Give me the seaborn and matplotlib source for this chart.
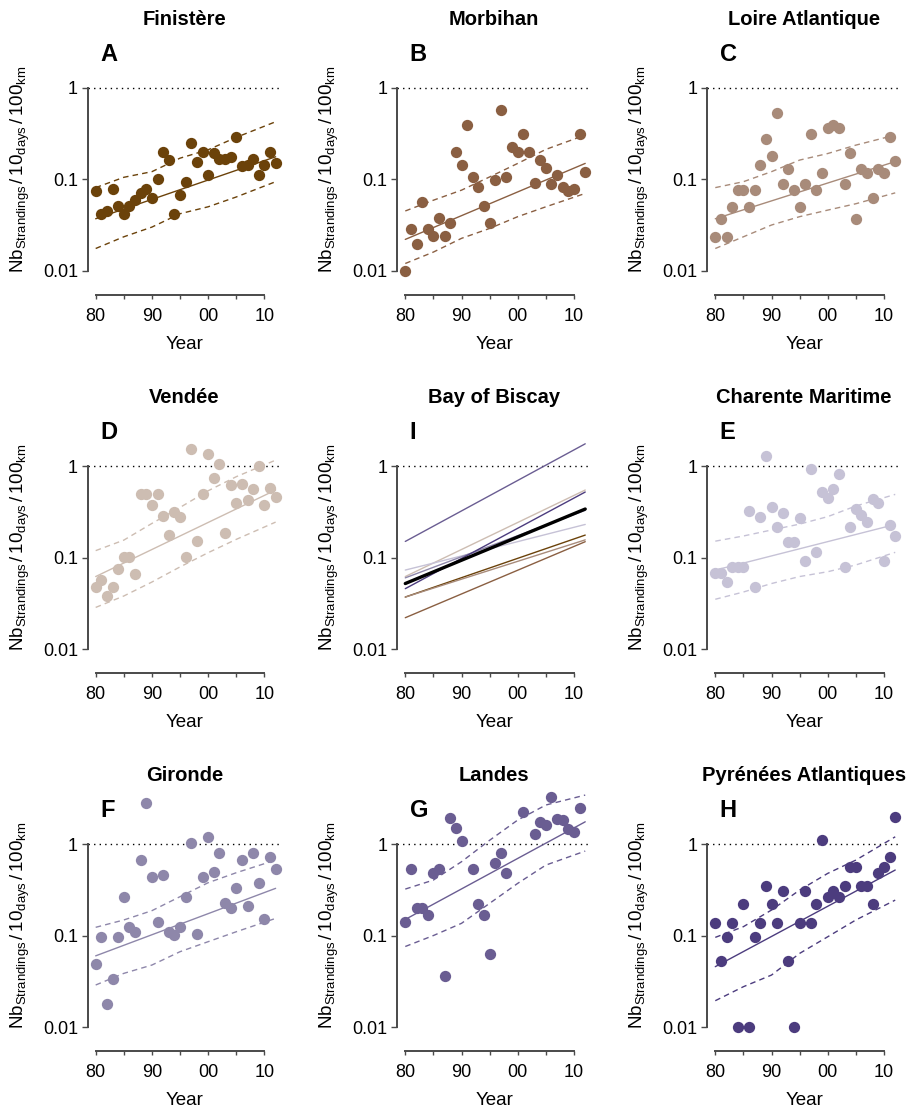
import numpy as np
import pandas as pd
import matplotlib
matplotlib.use("Agg")
import matplotlib.pyplot as plt
from matplotlib.ticker import FixedLocator, NullLocator, FixedFormatter
import seaborn as sns

# ---------------- data ----------------
years = list(range(1980, 2013))

finistere = [0.075, 0.042, 0.045, 0.078, 0.051, 0.042, 0.051, 0.059, 0.070, 0.078,
             0.062, 0.100, 0.198, 0.162, 0.042, 0.067, 0.093, 0.246, 0.155, 0.200,
             0.111, 0.195, 0.168, 0.165, 0.176, 0.291, 0.139, 0.143, 0.165, 0.111,
             0.143, 0.198, 0.149]
morbihan = [0.010, 0.0283, 0.0194, 0.0558, 0.0283, 0.0239, 0.038, 0.0239, 0.0329, 0.198,
            0.142, 0.394, 0.106, 0.083, 0.051, 0.0329, 0.097, 0.565, 0.106, 0.225,
            0.198, 0.312, 0.198, 0.092, 0.161, 0.134, 0.088, 0.111, 0.083, 0.074,
            0.079, 0.312, 0.121]
loire = [0.0235, 0.0367, 0.0235, 0.050, 0.076, 0.076, 0.050, 0.076, 0.142, 0.272,
         0.181, 0.533, 0.089, 0.128, 0.076, 0.050, 0.089, 0.312, 0.076, 0.116,
         0.360, 0.391, 0.360, 0.089, 0.195, 0.0367, 0.128, 0.116, 0.063, 0.128,
         0.116, 0.286, 0.157]
vendee = [0.048, 0.057, 0.038, 0.048, 0.075, 0.102, 0.102, 0.066, 0.49, 0.49,
          0.372, 0.49, 0.286, 0.176, 0.312, 0.275, 0.102, 1.53, 0.151, 0.49,
          1.34, 0.745, 1.04, 0.187, 0.62, 0.391, 0.63, 0.425, 0.56, 1.0,
          0.372, 0.58, 0.462]
charente = [0.067, 0.067, 0.054, 0.079, 0.079, 0.079, 0.325, 0.048, 0.275, 1.30,
            0.36, 0.217, 0.304, 0.148, 0.148, 0.268, 0.092, 0.92, 0.116, 0.525,
            0.451, 0.556, 0.824, 0.079, 0.217, 0.339, 0.291, 0.242, 0.432, 0.398,
            0.092, 0.227, 0.172]
gironde = [0.049, 0.0955, 0.0178, 0.0335, 0.0955, 0.266, 0.125, 0.110, 0.668, 2.78,
           0.44, 0.142, 0.458, 0.110, 0.101, 0.125, 0.266, 1.02, 0.103, 0.44,
           1.18, 0.49, 0.80, 0.225, 0.201, 0.333, 0.668, 0.21, 0.80, 0.378,
           0.150, 0.727, 0.533]
landes = [0.142, 0.533, 0.198, 0.198, 0.168, 0.478, 0.533, 0.0364, 1.94, 1.48,
          1.09, np.nan, 0.533, 0.221, 0.168, 0.0629, 0.615, 0.791, 0.486, np.nan,
          np.nan, 2.22, np.nan, 1.29, 1.72, 1.61, 3.29, 1.88, 1.83, 1.45,
          1.34, 2.45, np.nan]
pyrenees = [0.138, 0.0527, 0.097, 0.138, 0.010, 0.221, 0.010, 0.097, 0.138, 0.348,
            0.221, 0.138, 0.309, 0.0527, 0.010, 0.138, 0.309, 0.138, 0.221, 1.11,
            0.266, 0.309, 0.266, 0.348, 0.556, 0.556, 0.348, 0.348, 0.221, 0.478,
            0.556, 0.727, 1.99]

# fitted trend lines
fit_years = [1980, 2012]
fit_years_e = [1980, 1985, 2012]
fit_A = [0.037, 0.176]
fit_B = [0.022, 0.149]
fit_C = [0.037, 0.156]
fit_D = [0.062, 0.547]
fit_E = [0.073, 0.087, 0.23]
fit_F = [0.060, 0.328]
fit_G = [0.150, 1.75]
fit_H = [0.0457, 0.52]
fit_mean = [0.052, 0.339]

# confidence bands
ci_years = [1980, 1985, 1990, 1995, 2000, 2005, 2012]
up_A = [0.081, 0.105, 0.121, 0.17, 0.21, 0.287, 0.425]
lo_A = [0.0175, 0.0235, 0.030, 0.042, 0.05, 0.064, 0.094]
up_B = [0.045, 0.059, 0.076, 0.106, 0.149, 0.212, 0.304]
lo_B = [0.012, 0.016, 0.0226, 0.029, 0.039, 0.05, 0.07]
up_C = [0.081, 0.094, 0.121, 0.162, 0.191, 0.236, 0.304]
lo_C = [0.0175, 0.0235, 0.0316, 0.039, 0.046, 0.054, 0.071]
up_D = [0.119, 0.155, 0.236, 0.353, 0.537, 0.765, 1.16]
lo_D = [0.0285, 0.038, 0.054, 0.079, 0.113, 0.158, 0.244]
up_E = [0.151, 0.172, 0.2, 0.232, 0.28, 0.366, 0.49]
lo_E = [0.035, 0.042, 0.052, 0.062, 0.07, 0.083, 0.114]
up_F = [0.123, 0.148, 0.187, 0.266, 0.378, 0.486, 0.668]
lo_F = [0.0288, 0.0386, 0.0476, 0.0666, 0.0857, 0.11, 0.154]
up_G = [0.322, 0.404, 0.641, 1.1, 1.83, 2.67, 3.43]
lo_G = [0.0759, 0.1, 0.136, 0.225, 0.372, 0.589, 0.838]
up_H = [0.0955, 0.125, 0.19, 0.314, 0.478, 0.668, 1.2]
lo_H = [0.0194, 0.0276, 0.037, 0.0638, 0.097, 0.148, 0.244]

titles = ["Finistère", "Morbihan", "Loire Atlantique",
          "Vendée", "Bay of Biscay", "Charente Maritime",
          "Gironde", "Landes", "Pyrénées Atlantiques"]
letters = ["A", "B", "C", "D", "I", "E", "F", "G", "H"]
x_ticks = [1980, 1985, 1990, 1995, 2000, 2005, 2010]
x_ticklabels = ["80", "", "90", "", "00", "", "10"]
y_ticks = [0.01, 0.1, 1]
y_ticklabels = ["0.01", "0.1", "1"]

colors = {"A": "#6b420a", "B": "#8a5f42", "C": "#a88b7a", "D": "#cdbdb2",
          "E": "#c6c2d6", "F": "#8e87aa", "G": "#6a5d92", "H": "#4c3c7e"}

regions = {
    "A": (finistere, fit_years, fit_A, up_A, lo_A),
    "B": (morbihan, fit_years, fit_B, up_B, lo_B),
    "C": (loire, fit_years, fit_C, up_C, lo_C),
    "D": (vendee, fit_years, fit_D, up_D, lo_D),
    "E": (charente, fit_years_e, fit_E, up_E, lo_E),
    "F": (gironde, fit_years, fit_F, up_F, lo_F),
    "G": (landes, fit_years, fit_G, up_G, lo_G),
    "H": (pyrenees, fit_years, fit_H, up_H, lo_H),
}

# ---------------- style ----------------
sns.set_theme(style="ticks")
plt.rcParams["font.family"] = ["Liberation Sans", "DejaVu Sans"]
plt.rcParams["text.color"] = "black"
plt.rcParams["axes.labelcolor"] = "black"
plt.rcParams["mathtext.fontset"] = "custom"
plt.rcParams["mathtext.rm"] = "Liberation Sans"
plt.rcParams["mathtext.it"] = "Liberation Sans:italic"
plt.rcParams["mathtext.bf"] = "Liberation Sans:bold"

W, H = 921, 1110
fig = plt.figure(figsize=(W / 100, H / 100), dpi=100)

px_per_year = 5.623
x_left = 1978.58
x_right = 2013.0
y_bot = 0.00542
y_top = 3.55
dec_px = 91.5
ax_w = (x_right - x_left) * px_per_year
ax_h = (np.log10(y_top) - np.log10(y_bot)) * dec_px

col_left = [87.7, 397.3, 707.3]
row_top = [37.4, 415.7, 793.7]

spine_col = "#4a4a4a"
ylabel = r"$\mathrm{Nb}_{\mathrm{Strandings}}\,/\,\mathrm{10}_{\mathrm{days}}\,/\,\mathrm{100}_{\mathrm{km}}$"

for i, (title, letter) in enumerate(zip(titles, letters)):
    r, c = divmod(i, 3)
    ax = fig.add_axes([col_left[c] / W, 1 - (row_top[r] + ax_h) / H, ax_w / W, ax_h / H])
    ax.set_yscale("log")
    ax.set_xlim(x_left, x_right)
    ax.set_ylim(y_bot, y_top)

    ax.axhline(1, ls=(0, (1, 3)), color="black", lw=1.0, zorder=1)

    if letter == "I":
        for key in ["D", "E", "F", "G", "H", "A", "B", "C"]:
            _, fy, fv, _, _ = regions[key]
            sns.lineplot(x=fy, y=fv, ax=ax, color=colors[key], lw=1.0, zorder=2)
        sns.lineplot(x=fit_years, y=fit_mean, ax=ax, color="black", lw=2.4, zorder=3)
    else:
        vals, fy, fv, up, lo = regions[letter]
        col = colors[letter]
        df = pd.DataFrame({"year": years, "value": vals}).dropna()
        sns.scatterplot(data=df, x="year", y="value", ax=ax, color=col, s=66,
                        linewidth=0, zorder=4, clip_on=False)
        sns.lineplot(x=fy, y=fv, ax=ax, color=col, lw=1.0, zorder=3)
        sns.lineplot(x=ci_years, y=up, ax=ax, color=col, lw=1.0, zorder=3,
                     linestyle=(0, (4, 3)))
        sns.lineplot(x=ci_years, y=lo, ax=ax, color=col, lw=1.0, zorder=3,
                     linestyle=(0, (4, 3)))

    # axes cosmetics
    ax.xaxis.set_major_locator(FixedLocator(x_ticks))
    ax.xaxis.set_major_formatter(FixedFormatter(x_ticklabels))
    ax.xaxis.set_minor_locator(NullLocator())
    ax.yaxis.set_major_locator(FixedLocator(y_ticks))
    ax.yaxis.set_major_formatter(FixedFormatter(y_ticklabels))
    ax.yaxis.set_minor_locator(NullLocator())
    ax.tick_params(axis="x", length=3, width=1.0, color=spine_col, labelsize=13,
                   pad=6, labelcolor="black")
    ax.tick_params(axis="y", length=4, width=1.0, color=spine_col, labelsize=13,
                   pad=3, labelcolor="black")
    for s in ["top", "right"]:
        ax.spines[s].set_visible(False)
    ax.spines["left"].set_bounds(0.01, 1)
    ax.spines["bottom"].set_bounds(1980, 2010)
    for s in ["left", "bottom"]:
        ax.spines[s].set_color(spine_col)
        ax.spines[s].set_linewidth(1.4)

    ax.set_xlabel("Year", fontsize=13.5, color="black")
    ax.xaxis.set_label_coords(0.5, -0.158)
    ax.set_ylabel(ylabel, fontsize=13.5, color="black")
    ax.yaxis.set_label_coords(-0.29, 0.49)

    ax.text(0.5, 1.069, title, transform=ax.transAxes, ha="center", va="center",
            fontsize=14.5, fontweight="bold", color="black")
    ax.text((1980.8 - x_left) / (x_right - x_left), 1 - 17 / ax_h, letter,
            transform=ax.transAxes, ha="left", va="center", fontsize=17,
            fontweight="bold", color="black")

fig.savefig("out.png", dpi=100)
